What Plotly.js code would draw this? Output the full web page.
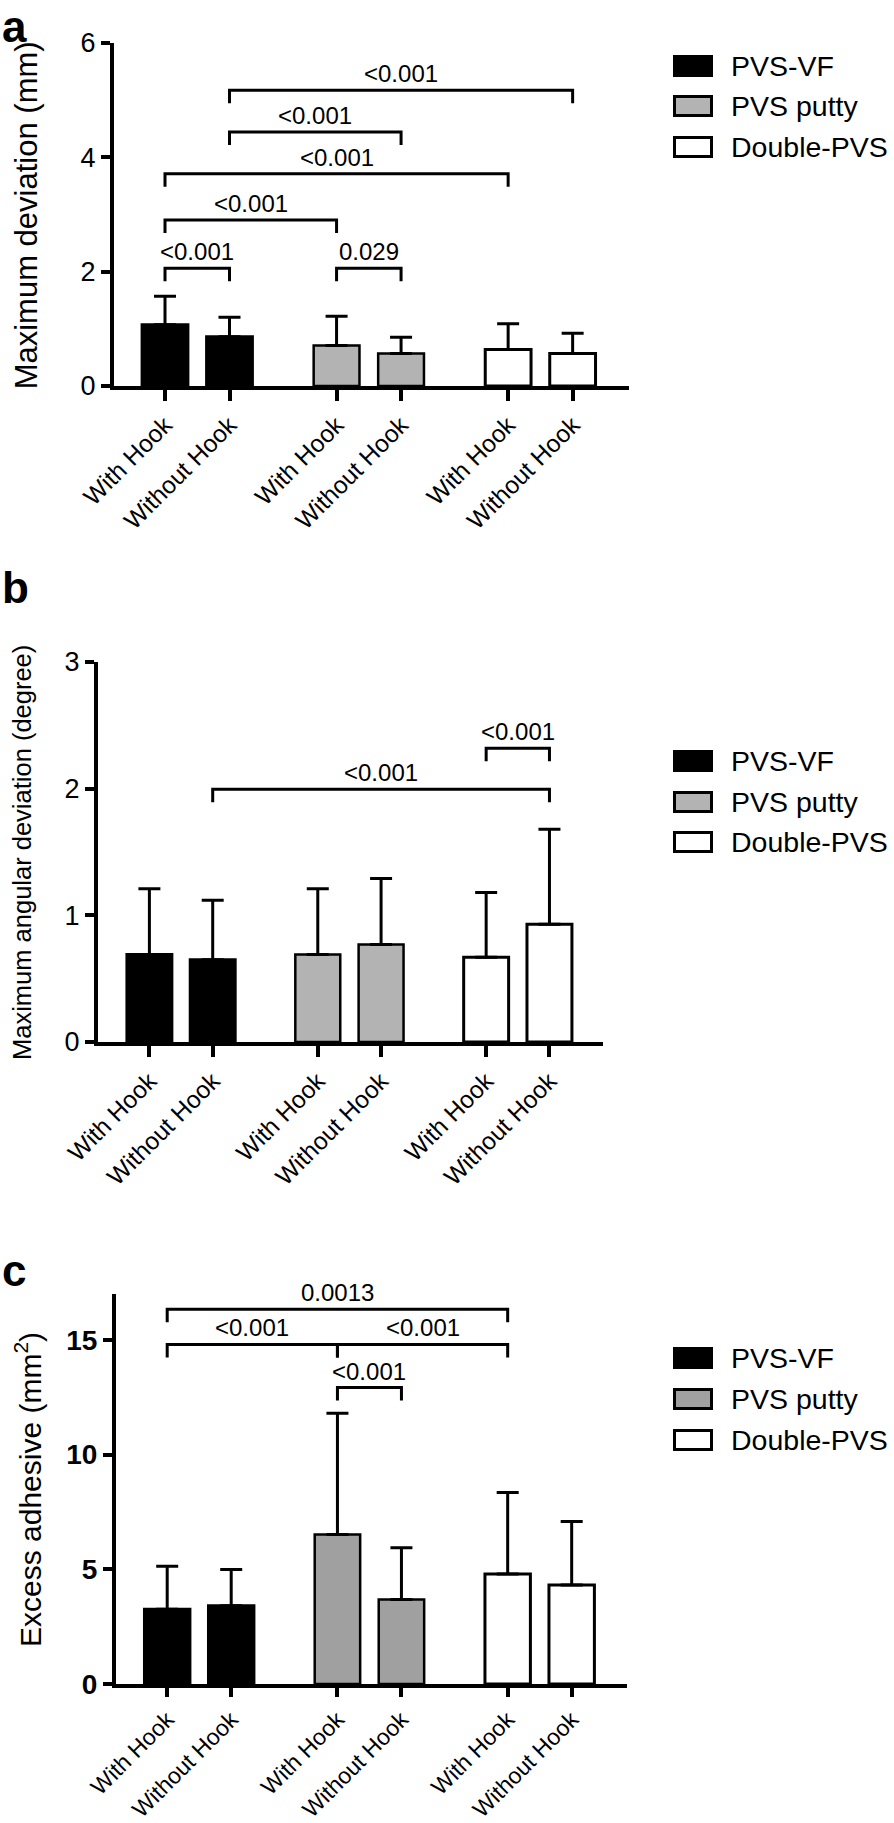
<!DOCTYPE html>
<html>
<head>
<meta charset="utf-8">
<script src="https://cdn.plot.ly/plotly-3.0.1.min.js"></script>
<style>html,body{margin:0;padding:0;background:#fff;}</style>
</head>
<body>
<div id="chart" style="width:894px;height:1823px;"></div>
<script>
// ---------------- DATA ----------------
const hookLabels = ['With Hook', 'Without Hook'];
const materials = ['PVS-VF', 'PVS putty', 'Double-PVS'];

// (a) Maximum deviation (mm): mean and SD (upper error)
const devMeanVF = [1.07, 0.86];
const devMeanPutty = [0.71, 0.57];
const devMeanDouble = [0.64, 0.57];
const devSdVF = [0.50, 0.34];
const devSdPutty = [0.51, 0.28];
const devSdDouble = [0.45, 0.35];

// (b) Maximum angular deviation (degree)
const angMeanVF = [0.69, 0.65];
const angMeanPutty = [0.69, 0.77];
const angMeanDouble = [0.67, 0.93];
const angSdVF = [0.52, 0.47];
const angSdPutty = [0.52, 0.52];
const angSdDouble = [0.51, 0.75];

// (c) Excess adhesive (mm2)
const adhMeanVF = [3.26, 3.41];
const adhMeanPutty = [6.52, 3.68];
const adhMeanDouble = [4.80, 4.32];
const adhSdVF = [1.87, 1.58];
const adhSdPutty = [5.28, 2.26];
const adhSdDouble = [3.55, 2.76];

// significance brackets: bar indices (0..5 = VF-with, VF-without, putty-with, putty-without, double-with, double-without)
const devBrFrom = [0, 2, 0, 0, 1, 1];
const devBrTo = [1, 3, 2, 4, 3, 5];
const devBrY = [2.06, 2.06, 2.90, 3.71, 4.44, 5.17];
const devBrP = ['<0.001', '0.029', '<0.001', '<0.001', '<0.001', '<0.001'];

const angBrFrom = [1, 4];
const angBrTo = [5, 5];
const angBrY = [1.996, 2.32];
const angBrP = ['<0.001', '<0.001'];

const adhBrFrom = [0, 2, 2, 0];
const adhBrTo = [2, 4, 3, 4];
const adhBrY = [14.8, 14.8, 12.92, 16.34];
const adhBrP = ['<0.001', '<0.001', '<0.001', '0.0013'];

// ---------------- LAYOUT HELPERS ----------------
const W = 894, H = 1823;
const FONT = 'Arial, "Liberation Sans", Helvetica, sans-serif';
const GROUP_STEP = 2.66;
const BAR_W = 0.71;
const barPos = (g, i) => g * GROUP_STEP + i;
const idxPos = k => barPos(Math.floor(k / 2), k % 2);

const panels = [
  {
    sfx: '', means: [devMeanVF, devMeanPutty, devMeanDouble], sds: [devSdVF, devSdPutty, devSdDouble],
    grey: '#b3b3b3', geom: {axisX: 112, axisEnd: 629, yTop: 42.7, axisY: 388, tick0: 165, unit: 64.5},
    yrange: [0, 6], ytick: [0, 2, 4, 6], yfont: {size: 27}, title: 'Maximum deviation (mm)',
    titleX: 26, titleSize: 31, label: 'a', labelY: 0, labelAnchor: 'top', legendRows: [66, 106, 147],
    xfont: 24.5, xticklen: 11,
    br: [devBrFrom, devBrTo, devBrY, devBrP]
  },
  {
    sfx: '2', means: [angMeanVF, angMeanPutty, angMeanDouble], sds: [angSdVF, angSdPutty, angSdDouble],
    grey: '#b3b3b3', geom: {axisX: 96, axisEnd: 603, yTop: 662, axisY: 1044, tick0: 149.4, unit: 63.3},
    yrange: [0, 3], ytick: [0, 1, 2, 3], yfont: {size: 27}, title: 'Maximum angular deviation (degree)',
    titleX: 22, titleSize: 25.5, label: 'b', labelY: 587, labelAnchor: 'middle', legendRows: [761, 802, 842],
    xfont: 24.5, xticklen: 11,
    br: [angBrFrom, angBrTo, angBrY, angBrP]
  },
  {
    sfx: '3', means: [adhMeanVF, adhMeanPutty, adhMeanDouble], sds: [adhSdVF, adhSdPutty, adhSdDouble],
    grey: '#a0a0a0', geom: {axisX: 114, axisEnd: 627, yTop: 1294, axisY: 1686, tick0: 167.2, unit: 64},
    yrange: [0, 17], ytick: [0, 5, 10, 15], yfont: {size: 28, weight: 'bold'}, title: 'Excess adhesive (mm<sup>2</sup>)',
    titleX: 28, titleSize: 30, label: 'c', labelY: 1270, labelAnchor: 'middle', legendRows: [1358, 1399, 1440],
    xfont: 23, xticklen: 9,
    br: [adhBrFrom, adhBrTo, adhBrY, adhBrP]
  }
];

const px2x = p => p / W;
const px2y = p => 1 - p / H;

const traces = [];
const layout = {
  width: W, height: H,
  margin: {l: 0, r: 0, t: 0, b: 0},
  paper_bgcolor: '#ffffff', plot_bgcolor: 'rgba(0,0,0,0)',
  showlegend: false,
  font: {family: FONT, color: '#000'},
  shapes: [], annotations: []
};

panels.forEach(p => {
  const g = p.geom;
  const xa = 'x' + p.sfx, ya = 'y' + p.sfx;
  const left = g.axisX + 2, bottom = g.axisY - 2;
  const tickPos = [];
  const tickText = [];
  materials.forEach((m, gi) => hookLabels.forEach((h, i) => { tickPos.push(barPos(gi, i)); tickText.push(h); }));
  const fills = ['#000000', p.grey, '#ffffff'];

  materials.forEach((m, gi) => {
    traces.push({
      type: 'bar', name: m,
      x: hookLabels.map((h, i) => barPos(gi, i)),
      y: p.means[gi],
      width: BAR_W,
      xaxis: xa, yaxis: ya,
      marker: {color: fills[gi], line: {color: '#000', width: gi === 1 ? 2.5 : 3}},
      error_y: {type: 'data', symmetric: false, array: p.sds[gi], arrayminus: p.sds[gi].map(() => 0),
        color: '#000', thickness: 3, width: 11},
      cliponaxis: false
    });
  });

  layout['xaxis' + p.sfx] = {
    domain: [px2x(left), px2x(g.axisEnd)],
    range: [(left - g.tick0) / g.unit, (g.axisEnd - g.tick0) / g.unit],
    anchor: ya, tickmode: 'array', tickvals: tickPos, ticktext: tickText,
    tickangle: -45, ticks: 'outside', ticklen: p.xticklen, tickwidth: 4, tickcolor: '#000',
    showline: true, linewidth: 4, linecolor: '#000', showgrid: false, zeroline: false,
    tickfont: {family: FONT, size: p.xfont, color: '#000'}, fixedrange: true
  };
  layout['yaxis' + p.sfx] = {
    domain: [px2y(bottom), px2y(g.yTop)],
    range: p.yrange, anchor: xa, tickmode: 'array', tickvals: p.ytick,
    ticks: 'outside', ticklen: 9, tickwidth: 4, tickcolor: '#000',
    showline: true, linewidth: 4, linecolor: '#000', showgrid: false, zeroline: false,
    tickfont: Object.assign({family: FONT, color: '#000'}, p.yfont), fixedrange: true
  };

  // significance brackets
  const pxPerUnit = (bottom - g.yTop) / (p.yrange[1] - p.yrange[0]);
  const leg = 13 / pxPerUnit;
  const [bf, bt, by, bp] = p.br;
  bf.forEach((f, k) => {
    const x1 = idxPos(f), x2 = idxPos(bt[k]), y = by[k];
    layout.shapes.push({
      type: 'path', xref: xa, yref: ya,
      path: `M ${x1},${y - leg} L ${x1},${y} L ${x2},${y} L ${x2},${y - leg}`,
      line: {color: '#000', width: 3}
    });
    layout.annotations.push({
      xref: xa, yref: ya, x: (x1 + x2) / 2, y: y, yanchor: 'bottom', xanchor: 'center',
      yshift: 1, text: bp[k], showarrow: false, font: {family: FONT, size: 24, color: '#000'}
    });
  });

  // axis title
  layout.annotations.push({
    xref: 'paper', yref: 'paper', x: px2x(p.titleX), y: px2y((g.yTop + g.axisY) / 2),
    xanchor: 'center', yanchor: 'middle', textangle: -90, text: p.title, showarrow: false,
    font: {family: FONT, size: p.titleSize, color: '#000'}
  });
  // panel label
  layout.annotations.push({
    xref: 'paper', yref: 'paper', x: 0, y: px2y(p.labelY), xanchor: 'left', yanchor: p.labelAnchor,
    text: '<b>' + p.label + '</b>', showarrow: false, font: {family: FONT, size: 44, color: '#000'}
  });
  // legend
  materials.forEach((m, gi) => {
    const cy = p.legendRows[gi];
    layout.shapes.push({
      type: 'rect', xref: 'paper', yref: 'paper',
      x0: px2x(gi === 0 ? 673 : 674.5), x1: px2x(gi === 0 ? 713 : 711.5),
      y0: px2y(cy - (gi === 0 ? 11 : 9.5)), y1: px2y(cy + (gi === 0 ? 11 : 9.5)),
      fillcolor: fills[gi], line: {color: '#000', width: gi === 0 ? 0 : 3}
    });
    layout.annotations.push({
      xref: 'paper', yref: 'paper', x: px2x(729), y: px2y(cy), xanchor: 'left', yanchor: 'middle',
      text: m, showarrow: false, font: {family: FONT, size: 28.5, color: '#000'}
    });
  });
});

Plotly.newPlot('chart', traces, layout, {staticPlot: true, displayModeBar: false});
</script>
</body>
</html>
